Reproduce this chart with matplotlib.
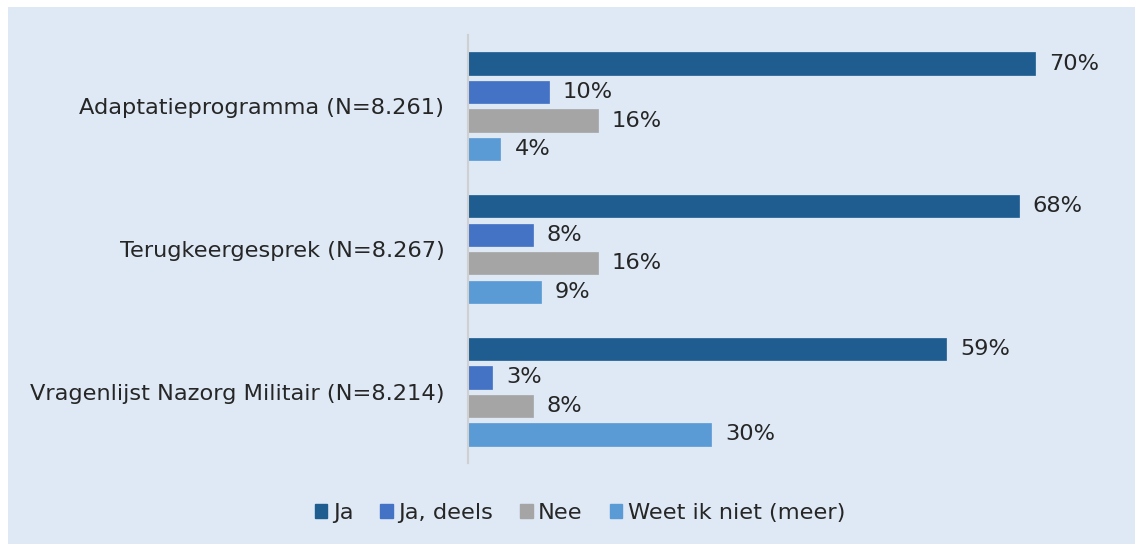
import matplotlib
matplotlib.use("Agg")
import matplotlib.pyplot as plt
import numpy as np
from matplotlib.patches import Patch

categories = ["Adaptatieprogramma (N=8.261)", "Terugkeergesprek (N=8.267)", "Vragenlijst Nazorg Militair (N=8.214)"]
series_names = ["Ja", "Ja, deels", "Nee", "Weet ik niet (meer)"]
ja = [70, 68, 59]
ja_deels = [10, 8, 3]
nee = [16, 16, 8]
weet = [4, 9, 30]
colors = ["#1F5C8F", "#4472C4", "#A5A5A5", "#5B9BD5"]

bg = "#DEE9F5"
fs = 16.2
fig = plt.figure(figsize=(11.35, 5.44), dpi=100)
fig.patch.set_facecolor("white")
fig.patches.append(plt.Rectangle((8/1135, 0), 1 - 8/1135, 1 - 7/544, transform=fig.transFigure,
                                 facecolor=bg, edgecolor="none", zorder=-10))
ax = fig.add_axes([468/1135, 1 - 463/544, (1116 - 468)/1135, (463 - 35)/544])
ax.set_facecolor("none")

y = np.arange(len(categories))
step = 0.2
h = 0.157
all_series = [ja, ja_deels, nee, weet]
for i, (vals, c, name) in enumerate(zip(all_series, colors, series_names)):
    pos = y + (i - 1.5) * step
    ax.barh(pos, vals, height=h, color=c, label=name, edgecolor=c, linewidth=0.5)
    for p, v in zip(pos, vals):
        ax.annotate(f"{v}%", xy=(v, p), xytext=(14, 0), textcoords="offset pixels",
                    va="center", ha="left", fontsize=fs, color="#262626")

ax.set_ylim(2.5, -0.5)
ax.set_xlim(0, 80)
ax.set_yticks(y)
ax.set_yticklabels(categories, fontsize=fs, color="#262626")
ax.tick_params(axis="y", length=0, pad=17)
ax.set_xticks([])
for s in ["top", "right", "bottom"]:
    ax.spines[s].set_visible(False)
ax.spines["left"].set_color("#D0D0D0")
ax.spines["left"].set_linewidth(1.5)

handles = [Patch(facecolor=c, edgecolor=c) for c in colors]
fig.legend(handles, series_names, loc="center", bbox_to_anchor=(580/1135, 1 - 513/544),
           ncol=4, frameon=False, fontsize=fs, handlelength=0.55, handleheight=0.55,
           handletextpad=0.25, columnspacing=1.2, labelcolor="#262626")

fig.savefig("out.png", dpi=100, facecolor=fig.get_facecolor())
